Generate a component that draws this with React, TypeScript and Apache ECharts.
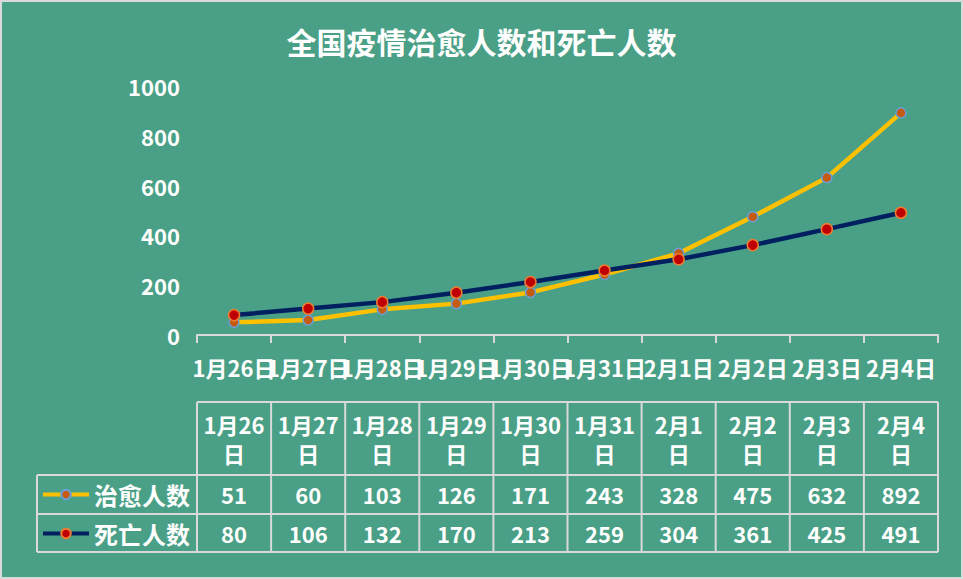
import React, { useEffect, useRef } from "react";
import * as echarts from "echarts";

const categories = ["1月26日", "1月27日", "1月28日", "1月29日", "1月30日", "1月31日", "2月1日", "2月2日", "2月3日", "2月4日"];
const curedName = "治愈人数";
const deathName = "死亡人数";
const cured = [51, 60, 103, 126, 171, 243, 328, 475, 632, 892];
const deaths = [80, 106, 132, 170, 213, 259, 304, 361, 425, 491];
const titleText = "全国疫情治愈人数和死亡人数";

const BG = "#49a086";
const LINE = "#d9d9d9";
const FONT = "'Noto Sans CJK SC', 'Noto Sans', sans-serif";

const W = 963;
const H = 579;
const GL = 197;
const GR = 938;
const AXIS_Y = 335;
const TABLE_TOP = 402;
const ROW1 = 475;
const ROW2 = 514;
const TABLE_BOTTOM = 552;
const LEG_LEFT = 37;

export default function App() {
  const ref = useRef<HTMLDivElement>(null);
  useEffect(() => {
    if (!ref.current) return;
    const chart = echarts.init(ref.current, undefined, { renderer: "svg" });
    const n = categories.length;
    const cell = (GR - GL) / n;
    const lines: any[] = [];
    const hl = (x1: number, x2: number, y: number) =>
      lines.push({ type: "line", shape: { x1, y1: y, x2, y2: y }, style: { stroke: LINE, lineWidth: 2 }, silent: true });
    const vl = (x: number, y1: number, y2: number) =>
      lines.push({ type: "line", shape: { x1: x, y1, x2: x, y2 }, style: { stroke: LINE, lineWidth: 2 }, silent: true });
    hl(GL, GR, TABLE_TOP);
    hl(LEG_LEFT, GR, ROW1);
    hl(LEG_LEFT, GR, ROW2);
    hl(LEG_LEFT, GR, TABLE_BOTTOM);
    for (let i = 0; i <= n; i++) vl(GL + cell * i, TABLE_TOP, TABLE_BOTTOM);
    vl(LEG_LEFT, ROW1, TABLE_BOTTOM);

    const labelBase = { color: "#fff", fontWeight: "bold" as const, fontFamily: FONT, interval: 0, hideOverlap: false };
    const hiddenAxis = (data: string[], margin: number, extra: any = {}) => ({
      type: "category",
      gridIndex: 0,
      position: "bottom",
      data,
      boundaryGap: true,
      axisLine: { show: false, onZero: false },
      axisTick: { show: false },
      splitLine: { show: false },
      axisLabel: { ...labelBase, fontSize: 22, margin, verticalAlign: "middle", ...extra },
    });

    chart.setOption({
      animation: false,
      backgroundColor: BG,
      title: {
        text: titleText,
        left: "center",
        top: 19,
        textStyle: { color: "#fff", fontSize: 30, fontWeight: "bold", fontFamily: FONT, lineHeight: 33 },
      },
      legend: {
        orient: "vertical",
        left: LEG_LEFT + 4,
        top: ROW1,
        padding: 0,
        itemGap: 0,
        itemWidth: 46,
        itemHeight: 12,
        lineStyle: { width: 4 },
        textStyle: { color: "#fff", fontSize: 24, fontWeight: "bold", fontFamily: FONT, lineHeight: 39 },
        data: [curedName, deathName],
      },
      grid: { left: GL, right: W - GR, top: 86, bottom: H - AXIS_Y, containLabel: false },
      xAxis: [
        {
          type: "category",
          data: categories,
          boundaryGap: true,
          position: "bottom",
          axisLine: { lineStyle: { color: LINE, width: 2 } },
          axisTick: { show: true, length: 8, lineStyle: { color: LINE, width: 2 } },
          splitLine: { show: false },
          axisLabel: { ...labelBase, fontSize: 22, margin: 32, verticalAlign: "middle" },
        },
        hiddenAxis(categories, 103, {
          fontSize: 22,
          lineHeight: 29,
          formatter: (v: string) => v.replace(/日$/, "\n日"),
        }),
        hiddenAxis(cured.map(String), 159),
        hiddenAxis(deaths.map(String), 198),
      ],
      yAxis: {
        type: "value",
        min: 0,
        max: 1000,
        interval: 200,
        axisLine: { show: false },
        axisTick: { show: false },
        splitLine: { show: false },
        axisLabel: { ...labelBase, fontSize: 22, margin: 17, formatter: (v: number) => String(v) },
      },
      series: [
        {
          name: curedName,
          type: "line",
          data: cured,
          xAxisIndex: 0,
          symbol: "circle",
          symbolSize: 10,
          lineStyle: { color: "#ffc000", width: 4.5 },
          itemStyle: { color: "#c55a11", borderColor: "#6a9fd8", borderWidth: 1.5 },
        },
        {
          name: deathName,
          type: "line",
          data: deaths,
          xAxisIndex: 0,
          symbol: "circle",
          symbolSize: 11,
          lineStyle: { color: "#002060", width: 4.5 },
          itemStyle: { color: "#c00000", borderColor: "#ed7d31", borderWidth: 1.5 },
        },
      ],
      graphic: [
        ...lines,
        {
          type: "rect",
          shape: { x: 0, y: 0, width: W, height: H },
          style: { fill: "none", stroke: LINE, lineWidth: 4 },
          silent: true,
        },
      ],
    });
    return () => chart.dispose();
  }, []);
  return <div ref={ref} style={{ position: "fixed", left: 0, top: 0, width: W, height: H }} />;
}
